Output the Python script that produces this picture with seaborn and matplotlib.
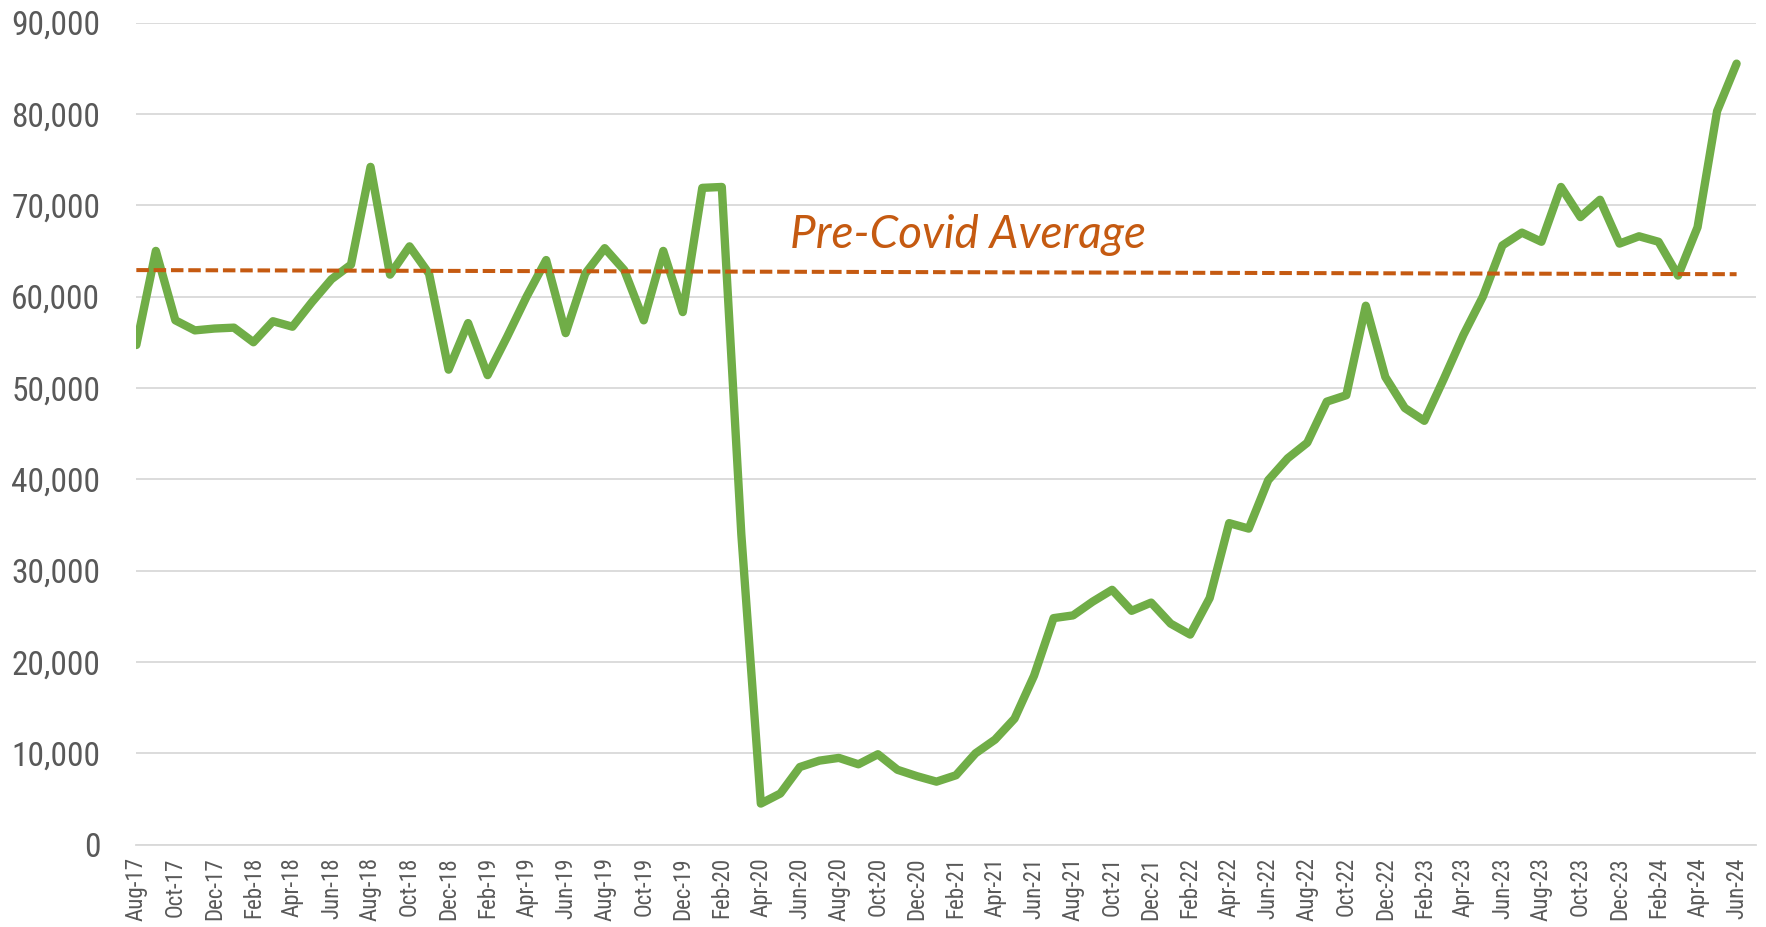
import matplotlib
matplotlib.use("Agg")
import matplotlib.pyplot as plt
from matplotlib import font_manager
import seaborn as sns
import pandas as pd

# monthly series, Aug-17 .. Jun-24
months = pd.date_range("2017-08-01", "2024-06-01", freq="MS")
month_labels = [d.strftime("%b-%y") for d in months]

values = [
    54700, 65000, 57400, 56300, 56500, 56600, 55000, 57300, 56700, 59400,  # Aug-17 .. May-18
    61900, 63500, 74200, 62400, 65500, 62500, 52000, 57100, 51400, 55600,  # Jun-18 .. Mar-19
    60000, 64000, 56000, 62500, 65300, 62900, 57400, 65000, 58300, 71900,  # Apr-19 .. Jan-20
    72000, 34000, 4500, 5600, 8500, 9200, 9500, 8800, 9900, 8200,          # Feb-20 .. Nov-20
    7500, 6900, 7600, 10000, 11500, 13800, 18500, 24800, 25100, 26600,     # Dec-20 .. Sep-21
    27900, 25600, 26500, 24200, 23000, 27000, 35200, 34600, 39900, 42300,  # Oct-21 .. Jul-22
    44000, 48500, 49200, 59000, 51200, 47800, 46400, 51000, 55800, 60000,  # Aug-22 .. May-23
    65600, 67000, 66000, 72000, 68700, 70600, 65800, 66600, 66000, 62300,  # Jun-23 .. Mar-24
    67600, 80300, 85500,                                                   # Apr-24 .. Jun-24
]

# pre-covid average line (two-point series, slightly sloped in the source)
avg_values = [62900, 62450]
avg_label = "Pre-Covid Average"

df = pd.DataFrame({"idx": range(len(values)), "value": values})
avg_df = pd.DataFrame({"idx": [0, len(values) - 1], "value": avg_values})

GREEN = "#70AD47"
ORANGE = "#C55A11"
GRAY_TXT = "#595959"
GRID = "#D9D9D9"

# look for a narrow / condensed face for the axis labels
narrow_file = None
for f in font_manager.fontManager.ttflist:
    if f.style != "normal" or f.weight not in (400, "normal", "regular"):
        continue
    if "Narrow" in f.name or "Condensed" in f.name or f.stretch in ("condensed", "semi-condensed"):
        narrow_file = f.fname
        if "Liberation" in f.name or "Roboto" in f.name:
            break
if narrow_file:
    ylab_font = font_manager.FontProperties(fname=narrow_file, size=24)
    xlab_font = font_manager.FontProperties(fname=narrow_file, size=16.5)
else:
    ylab_font = font_manager.FontProperties(family="Liberation Sans", size=21)
    xlab_font = font_manager.FontProperties(family="Liberation Sans", size=14)

available = {f.name for f in font_manager.fontManager.ttflist}
italic_font = "Lato" if "Lato" in available else "DejaVu Sans"

sns.set_style("white")
plt.rcParams["font.family"] = ["Liberation Sans", "DejaVu Sans"]

fig = plt.figure(figsize=(17.66, 9.27), dpi=100)
ax = fig.add_axes([0.0772, 0.0888, 0.9172, 0.8869])

sns.lineplot(data=df, x="idx", y="value", ax=ax, color=GREEN, linewidth=6,
             solid_capstyle="round", solid_joinstyle="round", zorder=3)
sns.lineplot(data=avg_df, x="idx", y="value", ax=ax, color=ORANGE, linewidth=2.9,
             dashes=False, zorder=4)
ax.lines[-1].set_dashes([3.1, 1.2])
ax.lines[-1].set_dash_capstyle("butt")

ax.text(42.6, 65300, avg_label, color=ORANGE, fontsize=33, style="italic",
        family=[italic_font, "DejaVu Sans"], ha="center", va="baseline")

ax.set_xlim(0, 83)
ax.set_ylim(0, 90000)
ax.set_yticks(range(0, 90001, 10000))
ax.set_yticklabels([f"{v:,}" for v in range(0, 90001, 10000)])
ax.yaxis.grid(True, color=GRID, linewidth=1.3)
ax.xaxis.grid(False)

tick_pos = list(range(0, len(values), 2))
ax.set_xticks(tick_pos)
ax.set_xticklabels([month_labels[i] for i in tick_pos], rotation=90)

ax.tick_params(axis="y", length=0, pad=26, labelcolor=GRAY_TXT)
for lab in ax.get_yticklabels():
    lab.set_fontproperties(ylab_font)
ax.tick_params(axis="x", length=5, width=1.2, color=GRID, pad=4,
               labelcolor=GRAY_TXT, direction="out")
for lab in ax.get_xticklabels():
    lab.set_fontproperties(xlab_font)

for side in ["left", "top", "right"]:
    ax.spines[side].set_visible(False)
ax.spines["bottom"].set_color(GRID)
ax.spines["bottom"].set_linewidth(1.3)

ax.set_xlabel("")
ax.set_ylabel("")

plt.savefig("out.png", dpi=100)
